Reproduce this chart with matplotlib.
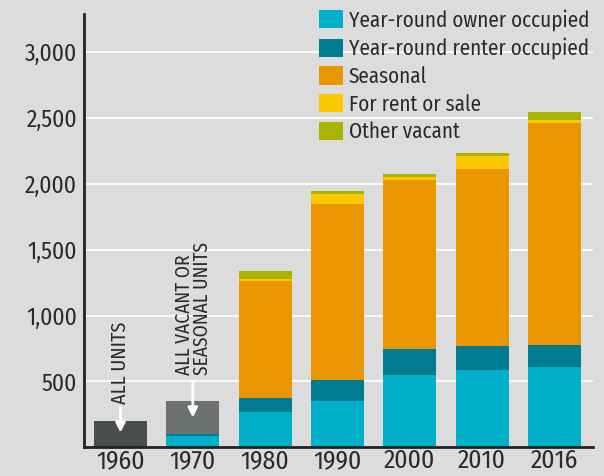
import matplotlib.pyplot as plt
import numpy as np

plt.rcParams['font.family'] = ['Fira Sans Condensed', 'DejaVu Sans']

years = ['1960', '1970', '1980', '1990', '2000', '2010', '2016']
all_units = [200, 0, 0, 0, 0, 0, 0]
owner = [0, 86, 268, 352, 549, 587, 610]
renter = [0, 14, 107, 159, 198, 183, 167]
vacant_or_seasonal = [0, 252, 0, 0, 0, 0, 0]
seasonal = [0, 0, 890, 1337, 1283, 1344, 1686]
for_rent = [0, 0, 13, 76, 23, 99, 23]
other = [0, 0, 61, 23, 23, 23, 61]

bg = '#dcdcdc'
txt = '#2a2a2a'

fig = plt.figure(figsize=(6.04, 4.76), dpi=100, facecolor=bg)
ax = fig.add_axes([0.139, 0.0603, 0.843, 0.9103], facecolor=bg)

x = np.arange(len(years))
w = 0.733
series = [
    (all_units, '#4a4d4e', None),
    (owner, '#00afca', 'Year-round owner occupied'),
    (renter, '#007b8f', 'Year-round renter occupied'),
    (vacant_or_seasonal, '#6d7172', None),
    (seasonal, '#ea9600', 'Seasonal'),
    (for_rent, '#fdc800', 'For rent or sale'),
    (other, '#a9b400', 'Other vacant'),
]
bottom = np.zeros(len(years))
handles = []
for vals, col, lab in series:
    b = ax.bar(x, vals, w, bottom=bottom, color=col, zorder=2, linewidth=0)
    if lab:
        handles.append((b, lab))
    bottom += np.array(vals)

ax.set_xlim(-0.505, 6.535)
ax.set_ylim(0, 3291)
ax.set_yticks([500, 1000, 1500, 2000, 2500, 3000])
ax.set_yticklabels(['500', '1,000', '1,500', '2,000', '2,500', '3,000'])
ax.set_xticks(x)
ax.set_xticklabels(years)
ax.tick_params(length=0, colors=txt)
ax.tick_params(axis='x', labelsize=18.5, pad=1)
ax.tick_params(axis='y', labelsize=17, pad=5)
ax.grid(axis='y', color='white', linewidth=1.2, zorder=0)
for s in ['top', 'right']:
    ax.spines[s].set_visible(False)
for s in ['left', 'bottom']:
    ax.spines[s].set_color('#222222')
    ax.spines[s].set_linewidth(2)
    ax.spines[s].set_zorder(3)

# annotations on the early bars
ax.text(0, 328, 'ALL UNITS', rotation=90, ha='center', va='bottom',
        fontsize=14.5, color=txt)
ax.annotate('', xy=(0, 90), xytext=(0, 322),
            arrowprops=dict(arrowstyle='-|>', color='white', lw=2, mutation_scale=14))
ax.text(1, 550, 'ALL VACANT OR\nSEASONAL UNITS', rotation=90, ha='center', va='bottom',
        multialignment='left', fontsize=14, color=txt, linespacing=0.9)
ax.annotate('', xy=(1, 205), xytext=(1, 515),
            arrowprops=dict(arrowstyle='-|>', color='white', lw=2, mutation_scale=14))

leg = fig.legend([h for h, l in handles], [l for h, l in handles],
                 loc='upper left', bbox_to_anchor=(319 / 604, 1 - 9 / 476),
                 frameon=False, fontsize=15.2, borderpad=0, borderaxespad=0,
                 handlelength=1.14, handleheight=0.95, handletextpad=0.28,
                 labelspacing=0.31)
for t in leg.get_texts():
    t.set_color(txt)

fig.savefig('out.png', dpi=100, facecolor=bg)
